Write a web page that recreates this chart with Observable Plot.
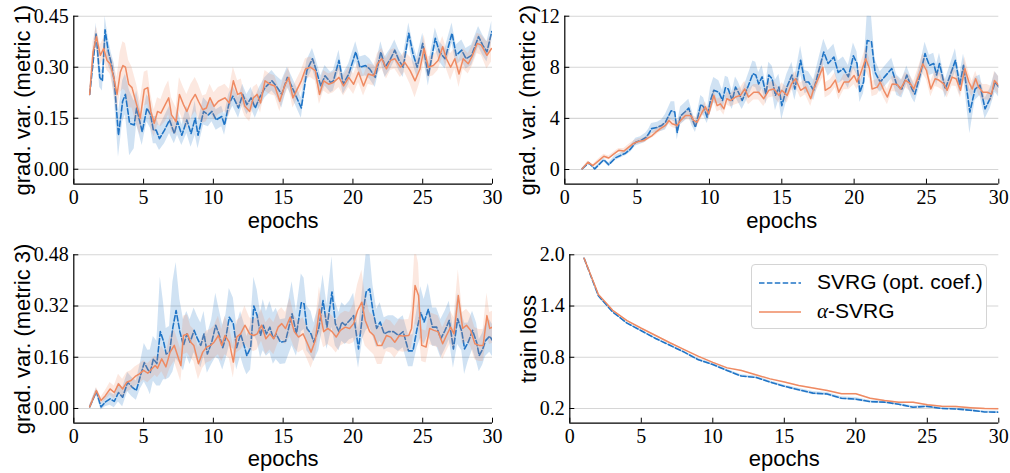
<!DOCTYPE html>
<html><head><meta charset="utf-8">
<script src="https://cdn.jsdelivr.net/npm/d3@7"></script>
<script src="https://cdn.jsdelivr.net/npm/@observablehq/plot@0.6"></script>
<style>
html,body{margin:0;padding:0;background:#fff;}
#chart{position:relative;width:1010px;height:473px;overflow:hidden;background:#fff;}
.pnl{position:absolute;}
.legend{position:absolute;left:751px;top:264px;width:236px;height:65px;box-sizing:border-box;border:1px solid #d4d4d4;border-radius:4px;background:#fff;font-family:"Liberation Sans",Arial,sans-serif;font-size:21px;color:#000;}
.legend .sw{position:absolute;left:7px;}
.legend .tx{position:absolute;left:65px;line-height:24px;white-space:nowrap;}
</style></head><body><div id="chart"></div>
<script>
// ---------- data ----------
const xTicks = [0, 5, 10, 15, 20, 25, 30];
const xLabel = "epochs";
const yLabels = ["grad. var. (metric 1)", "grad. var. (metric 2)", "grad. var. (metric 3)", "train loss"];
const yTicks1 = [0, 0.15, 0.30, 0.45];
const yTicks2 = [0, 4, 8, 12];
const yTicks3 = [0, 0.16, 0.32, 0.48];
const yTicks4 = [0.2, 0.8, 1.4, 2.0];
const seriesNames = ["SVRG (opt. coef.)", "α-SVRG"];

// panel 1
const svrg1X = [1.14,1.6,1.86,2.05,2.24,2.48,2.67,2.9,3.2,3.5,3.7,4.0,4.33,4.5,4.9,5.24,5.5,5.7,5.9,6.14,6.5,6.86,7.2,7.43,7.74,8.1,8.4,8.7,8.9,9.3,9.64,9.9,10.2,10.6,10.8,11.1,11.4,11.8,12.1,12.4,12.7,13.0,13.3,13.7,14.2,14.5,14.9,15.3,15.6,16.3,16.7,17.1,17.3,17.7,18.0,18.4,18.6,19.0,19.3,19.7,20.2,20.5,20.9,21.2,21.6,22.0,22.3,22.7,23.0,23.3,23.6,24.0,24.3,24.6,25.0,25.4,25.9,26.2,26.6,27.1,27.4,27.8,28.1,28.5,29.0,29.3,29.6,29.95];
const svrg1Y = [.22,.40,.27,.26,.41,.345,.315,.26,.10,.20,.22,.135,.13,.18,.11,.18,.16,.115,.115,.09,.115,.145,.105,.14,.10,.145,.105,.15,.10,.17,.16,.17,.145,.155,.13,.19,.215,.18,.22,.19,.21,.18,.21,.24,.26,.245,.22,.27,.245,.18,.29,.325,.30,.245,.275,.255,.26,.32,.25,.28,.345,.30,.305,.295,.27,.345,.30,.325,.35,.32,.30,.40,.34,.30,.37,.275,.385,.345,.325,.40,.335,.35,.325,.335,.39,.365,.345,.405];
const svrg1S = [.01,.03,.03,.03,.04,.04,.03,.05,.065,.06,.06,.095,.07,.05,.04,.04,.04,.04,.04,.035,.04,.04,.03,.04,.03,.04,.04,.05,.04,.04,.035,.03,.03,.03,.03,.03,.03,.03,.03,.03,.03,.03,.03,.03,.03,.03,.04,.03,.03,.03,.03,.03,.03,.03,.03,.03,.03,.03,.03,.03,.03,.03,.03,.03,.03,.03,.03,.03,.03,.03,.03,.03,.03,.03,.03,.03,.03,.03,.03,.03,.03,.03,.03,.03,.03,.03,.03,.03];
const alpha1X = [1.14,1.38,1.62,1.9,2.14,2.38,2.6,2.86,3.1,3.33,3.52,3.7,3.93,4.17,4.5,4.76,5.05,5.3,5.52,5.76,6.0,6.24,6.55,6.8,7.0,7.33,7.57,7.86,8.1,8.4,8.7,8.93,9.24,9.5,9.76,10.05,10.36,10.6,10.83,11.14,11.43,11.74,12.0,12.26,12.6,12.86,13.14,13.38,13.7,14.05,14.4,14.76,15.1,15.4,15.7,16.0,16.3,16.6,16.95,17.3,17.6,17.9,18.26,18.6,19.0,19.33,19.7,20.05,20.4,20.76,21.1,21.5,21.76,22.07,22.4,22.7,23.0,23.4,23.7,24.1,24.45,24.8,25.1,25.4,25.76,26.1,26.43,26.7,27.0,27.3,27.6,27.9,28.26,28.57,28.9,29.2,29.6,29.93];
const alpha1Y = [.22,.345,.39,.335,.355,.32,.31,.27,.22,.285,.305,.30,.25,.24,.19,.15,.235,.24,.17,.135,.17,.165,.19,.21,.16,.14,.22,.19,.17,.20,.22,.20,.175,.18,.21,.185,.20,.205,.21,.195,.26,.22,.225,.185,.17,.21,.22,.195,.26,.25,.245,.20,.245,.27,.21,.235,.26,.295,.30,.29,.22,.26,.25,.255,.27,.245,.27,.25,.285,.245,.28,.275,.31,.325,.295,.32,.325,.30,.315,.29,.26,.295,.355,.30,.305,.32,.36,.325,.30,.325,.28,.325,.31,.335,.37,.365,.335,.355];
const alpha1S = [.01,.03,.03,.03,.03,.03,.03,.04,.05,.06,.07,.07,.07,.06,.06,.05,.05,.05,.05,.04,.04,.04,.05,.05,.05,.04,.05,.05,.05,.05,.05,.05,.04,.04,.04,.04,.04,.04,.04,.04,.04,.04,.04,.03,.03,.03,.03,.03,.03,.03,.03,.03,.03,.03,.03,.03,.03,.03,.03,.03,.03,.03,.03,.03,.03,.03,.03,.03,.03,.03,.03,.03,.03,.03,.03,.03,.03,.03,.03,.04,.05,.04,.04,.03,.03,.03,.03,.03,.04,.03,.04,.03,.03,.03,.03,.03,.04,.04];

// panel 2
const svrg2X = [1.2,1.66,2.07,2.7,3.04,3.5,3.85,4.2,4.54,4.9,5.23,5.6,5.8,6.0,6.4,6.7,6.96,7.35,7.6,7.77,8.0,8.3,8.57,8.8,9.03,9.4,9.6,9.84,10.07,10.3,10.65,10.9,11.1,11.3,11.57,11.8,12.0,12.26,12.5,12.7,13.0,13.2,13.4,13.64,13.9,14.1,14.33,14.56,14.8,15.0,15.35,15.7,15.9,16.3,16.6,16.85,17.2,17.5,17.9,18.2,18.6,18.9,19.26,19.6,19.95,20.2,20.4,20.65,20.9,21.2,21.45,21.8,22.1,22.6,22.95,23.3,23.64,24.0,24.2,24.56,24.9,25.2,25.5,25.7,25.9,26.3,26.6,27.0,27.3,27.56,28.0,28.36,28.7,29.05,29.4,29.75,30.0];
const svrg2Y = [0.05,0.52,0.05,0.76,0.37,0.91,1.1,1.28,1.6,2.14,2.27,2.5,2.8,3.2,3.3,3.45,3.7,4.6,4.5,2.9,4.2,4.5,4.8,4.0,3.3,5.1,4.9,4.1,5.4,6.2,6.05,5.4,6.4,6.3,5.4,6.45,6.05,5.4,6.05,6.6,7.5,7.4,6.7,7.25,5.9,7.4,7.1,5.8,6.45,5.0,6.45,7.4,6.3,8.55,6.85,6.85,6.2,7.5,9.2,8.3,8.8,7.6,7.9,7.25,8.9,8.3,6.05,6.85,10.1,10.0,7.6,6.85,7.25,7.9,6.6,6.3,7.4,6.3,5.9,7.4,9.07,8.15,8.3,7.4,8.3,6.3,7.25,8.55,6.6,8.15,4.5,6.3,6.6,4.75,5.55,6.85,6.45];
const svrg2S = [.05,.1,.1,.15,.15,.2,.2,.2,.25,.3,.3,.35,.35,.4,.4,.45,.6,.7,.8,.6,.7,.7,.7,.6,.4,.7,.7,.5,1.0,1.0,.9,.8,.9,.9,.7,.8,.8,.7,.8,.9,1.0,1.0,.9,.9,.8,1.0,1.0,1.2,1.0,1.1,1.0,1.0,.9,1.1,.9,.8,.8,.9,1.0,1.0,1.0,.9,.9,.9,1.0,.9,.8,.9,2.0,2.0,1.0,.8,.8,.8,.8,.7,.7,.7,.7,.8,.9,.8,.8,.8,.8,.7,.8,.9,.8,.9,1.7,.9,.8,.8,.8,.8,.8];
const alpha2X = [1.2,1.6,1.94,2.35,2.7,3.04,3.4,3.73,4.08,4.42,4.77,5.1,5.46,5.8,6.04,6.27,6.6,6.96,7.2,7.42,7.77,8.0,8.34,8.7,8.9,9.15,9.5,9.72,9.95,10.3,10.53,10.76,11.0,11.2,11.45,11.8,12.14,12.44,12.7,13.06,13.4,13.75,14.1,14.45,14.8,15.0,15.37,15.67,15.95,16.3,16.64,17.0,17.2,17.56,17.84,18.0,18.36,18.7,18.94,19.3,19.63,20.0,20.2,20.44,20.8,21.06,21.24,21.6,21.8,22.05,22.3,22.63,23.0,23.2,23.55,23.9,24.12,24.47,24.75,25.0,25.3,25.6,25.85,26.2,26.43,26.77,27.05,27.35,27.65,27.93,28.16,28.4,28.6,28.9,29.2,29.5,29.7,30.0];
const alpha2Y = [.05,.57,.3,.7,1.04,.9,1.23,1.5,1.44,1.75,2.06,2.2,2.27,2.5,2.66,2.9,3.2,3.45,3.84,3.58,3.45,3.84,4.23,4.23,3.84,3.7,4.5,4.9,4.36,5.8,5.0,5.14,4.75,5.54,5.4,5.67,5.8,6.3,5.67,6.05,6.05,5.54,6.2,6.3,5.8,6.2,5.8,6.7,7.1,6.2,6.45,5.54,6.3,7.23,8.0,6.2,6.45,7.0,6.05,6.85,6.85,7.36,6.85,7.5,8.67,7.9,6.3,6.45,6.85,6.2,5.67,6.7,6.65,6.3,7.0,6.7,6.3,7.36,8.27,7.75,6.3,7.1,7.0,6.7,6.2,7.23,7.1,6.2,7.9,6.85,6.3,7.1,6.45,6.05,6.05,5.9,6.97,6.58];
const alpha2S = [.05,.1,.1,.15,.15,.15,.15,.15,.2,.2,.2,.2,.2,.2,.2,.25,.25,.25,.3,.3,.3,.3,.35,.35,.35,.35,.4,.4,.4,.5,.5,.5,.5,.5,.5,.6,.6,.6,.6,.6,.6,.6,.6,.6,.6,.6,.6,.6,.6,.6,.6,.6,.6,.7,.8,.6,.6,.6,.6,.6,.6,.7,.6,.7,.9,.8,.6,.6,.6,.6,.6,.6,.6,.6,.6,.6,.6,.7,.8,.7,.6,.6,.6,.6,.6,.7,.6,.6,.9,.7,.6,.6,.6,.6,.6,.6,.7,.7];

// panel 3
const svrg3X = [1.14,1.62,1.95,2.26,2.6,2.9,3.2,3.5,3.86,4.17,4.48,4.76,5.05,5.3,5.48,5.7,5.95,6.2,6.43,6.62,6.86,7.1,7.33,7.6,7.86,8.1,8.33,8.62,8.86,9.1,9.33,9.57,9.88,10.17,10.4,10.67,10.9,11.14,11.43,11.67,11.95,12.2,12.4,12.67,12.9,13.14,13.38,13.57,13.8,14.05,14.3,14.5,14.8,15.17,15.64,15.95,16.3,16.5,16.7,17.0,17.2,17.55,17.86,18.14,18.5,18.74,19.0,19.2,19.45,19.76,20.05,20.4,20.7,20.95,21.2,21.43,21.7,21.95,22.24,22.55,22.9,23.26,23.6,23.98,24.3,24.6,24.86,25.1,25.4,25.7,26.0,26.3,26.6,26.9,27.2,27.5,27.8,28.0,28.26,28.57,28.86,29.05,29.3,29.5,29.8,30.0];
const svrg3Y = [.005,.053,.005,.02,.03,.022,.05,.035,.082,.067,.056,.10,.143,.122,.113,.155,.14,.24,.21,.17,.176,.254,.306,.24,.197,.233,.207,.244,.218,.197,.233,.17,.207,.26,.233,.19,.223,.285,.265,.19,.233,.197,.165,.19,.32,.29,.228,.26,.233,.254,.218,.233,.207,.21,.296,.233,.33,.327,.25,.233,.207,.25,.337,.254,.364,.265,.24,.27,.26,.275,.29,.186,.296,.364,.374,.306,.25,.27,.233,.24,.24,.228,.24,.18,.18,.25,.30,.27,.31,.254,.254,.218,.244,.275,.186,.28,.24,.186,.207,.244,.207,.165,.186,.212,.226,.212];
const svrg3S = [.005,.01,.01,.015,.02,.02,.03,.03,.03,.03,.03,.04,.06,.06,.07,.07,.07,.17,.12,.08,.08,.14,.15,.10,.08,.07,.07,.07,.07,.07,.07,.06,.07,.10,.08,.07,.07,.09,.08,.07,.07,.07,.06,.07,.09,.08,.07,.08,.07,.08,.08,.08,.07,.07,.10,.07,.09,.08,.07,.07,.06,.07,.08,.07,.11,.07,.06,.06,.06,.06,.07,.06,.08,.12,.12,.08,.06,.06,.05,.05,.05,.05,.05,.05,.05,.06,.08,.07,.08,.06,.06,.06,.06,.06,.06,.08,.06,.08,.06,.06,.06,.05,.05,.05,.05,.05];
const alpha3X = [1.14,1.62,1.95,2.26,2.6,2.9,3.2,3.5,3.8,4.1,4.4,4.7,5.0,5.3,5.6,5.83,6.0,6.3,6.6,6.9,7.2,7.43,7.67,7.86,8.14,8.38,8.6,8.93,9.24,9.52,9.8,10.05,10.36,10.6,10.83,11.14,11.43,11.67,11.95,12.26,12.6,12.9,13.14,13.45,13.76,14.05,14.33,14.64,14.9,15.17,15.5,15.8,16.1,16.43,16.7,17.0,17.3,17.6,17.9,18.2,18.5,18.8,19.1,19.45,19.76,20.05,20.33,20.64,20.88,21.2,21.5,21.76,22.07,22.4,22.7,23.0,23.33,23.6,24.0,24.2,24.45,24.7,24.93,25.24,25.5,25.8,26.1,26.43,26.7,27.0,27.24,27.55,27.86,28.14,28.43,28.74,29.05,29.33,29.6,29.8,30.0];
const alpha3Y = [.005,.056,.025,.04,.061,.05,.077,.061,.082,.0875,.10,.108,.119,.11,.124,.134,.126,.155,.13,.176,.197,.166,.134,.228,.233,.207,.197,.14,.176,.192,.197,.207,.228,.197,.228,.207,.145,.223,.233,.26,.233,.228,.233,.26,.218,.233,.218,.254,.265,.25,.285,.24,.223,.233,.207,.176,.212,.31,.24,.25,.24,.223,.244,.254,.25,.265,.306,.332,.275,.24,.228,.197,.197,.228,.223,.207,.228,.226,.228,.25,.384,.353,.197,.192,.25,.244,.24,.202,.228,.254,.233,.353,.25,.26,.244,.202,.197,.197,.29,.25,.254];
const alpha3S = [.005,.01,.01,.015,.02,.02,.03,.03,.03,.03,.03,.03,.03,.03,.03,.03,.03,.04,.04,.05,.05,.05,.05,.06,.06,.05,.05,.05,.05,.05,.05,.05,.06,.05,.06,.05,.05,.05,.05,.06,.05,.05,.05,.05,.05,.05,.05,.05,.05,.05,.06,.05,.05,.05,.05,.05,.05,.07,.05,.05,.05,.05,.05,.05,.05,.06,.08,.10,.08,.06,.06,.06,.06,.05,.05,.05,.05,.05,.05,.06,.12,.10,.05,.05,.05,.05,.05,.05,.05,.05,.05,.08,.05,.05,.05,.05,.05,.05,.07,.05,.05];

// panel 4
const lossEpochs = [1,2,3,4,5,6,7,8,9,10,11,12,13,14,15,16,17,18,19,20,21,22,23,24,25,26,27,28,29,30];
const svrg4Y = [1.96,1.52,1.33,1.20,1.11,1.02,0.94,0.86,0.77,0.715,0.645,0.58,0.565,0.51,0.46,0.42,0.38,0.37,0.32,0.31,0.28,0.275,0.25,0.215,0.225,0.20,0.195,0.18,0.16,0.157];
const svrg4S = [.005,.01,.01,.01,.01,.012,.012,.012,.015,.015,.015,.015,.015,.015,.015,.018,.018,.018,.018,.018,.015,.015,.015,.015,.015,.012,.012,.012,.012,.012];
const alpha4Y = [1.96,1.535,1.35,1.23,1.14,1.055,0.97,0.89,0.81,0.74,0.676,0.645,0.595,0.547,0.51,0.47,0.44,0.41,0.372,0.372,0.32,0.294,0.274,0.274,0.243,0.227,0.223,0.21,0.20,0.196];
const alpha4S = [.004,.006,.006,.006,.006,.006,.006,.006,.006,.006,.006,.006,.006,.006,.006,.006,.006,.006,.006,.006,.006,.006,.006,.006,.006,.006,.006,.006,.006,.006];

// ---------- drawing ----------
const BLUE = "#1f74c6", ORANGE = "#ef8a62";
const SERIF = "'Liberation Serif','Times New Roman',serif";
const SANS = "'Liberation Sans',Arial,Helvetica,sans-serif";

function rows(X, Y, S, name) {
  if (X.length !== Y.length || X.length !== S.length) throw new Error(name + " length mismatch " + X.length + "/" + Y.length + "/" + S.length);
  return X.map((e, i) => ({e, m: Y[i], lo: Y[i] - S[i], hi: Y[i] + S[i]}));
}

function panel(o) {
  const blue = rows(o.bx, o.by, o.bs, o.name + " svrg");
  const orange = rows(o.ox, o.oy, o.os, o.name + " alpha");
  const marks = [
    Plot.gridY(o.yTicks, {stroke: "#d6d6d6", strokeOpacity: 1, strokeWidth: 1.1}),
    Plot.areaY(blue, {x: "e", y1: "lo", y2: "hi", fill: BLUE, fillOpacity: 0.21, clip: true}),
    Plot.line(blue, {x: "e", y: "m", stroke: BLUE, strokeWidth: 1.6, strokeDasharray: "5.5,2.4", clip: true}),
    Plot.areaY(orange, {x: "e", y1: "lo", y2: "hi", fill: ORANGE, fillOpacity: 0.2, clip: true}),
    Plot.line(orange, {x: "e", y: "m", stroke: ORANGE, strokeWidth: 1.5, clip: true}),
    Plot.ruleX([0], {stroke: "#000", strokeWidth: 1.2}),
    Plot.ruleY([o.yDomain[0]], {stroke: "#000", strokeWidth: 1.2}),
    Plot.axisY(o.yTicks, {tickSize: 0, tickPadding: 5, tickFormat: o.yFmt, fontSize: 20, fontFamily: SERIF, label: null}),
    Plot.axisY(o.yTicks, {tickSize: 5, dx: 5, tickFormat: () => "", label: null}),
    Plot.axisX(xTicks, {tickSize: 0, tickPadding: 6, tickFormat: d => String(d), fontSize: 20, fontFamily: SERIF, label: null}),
    Plot.axisX(xTicks, {tickSize: 5, dy: -5, tickFormat: () => "", label: null}),
    Plot.text([xLabel], {frameAnchor: "bottom", dy: o.xLabelDy, lineAnchor: "middle", textAnchor: "middle", text: d => d, fontSize: 22, fontFamily: SANS, fill: "#000"}),
    Plot.text([o.yLabel], {frameAnchor: "left", dx: o.yLabelDx, rotate: -90, textAnchor: "middle", lineAnchor: "middle", text: d => d, fontSize: 22, fontFamily: SANS, fill: "#000"})
  ];
  const svg = Plot.plot({
    width: o.width, height: o.height,
    marginLeft: o.mL, marginRight: o.mR, marginTop: o.mT, marginBottom: o.mB,
    x: {domain: [0, 30]},
    y: {domain: o.yDomain},
    style: {fontFamily: SERIF, fontSize: "20px", background: "transparent", overflow: "visible", color: "#000"},
    marks
  });
  const div = document.createElement("div");
  div.className = "pnl";
  div.style.left = o.left + "px";
  div.style.top = o.top + "px";
  div.appendChild(svg);
  document.getElementById("chart").appendChild(div);
}

const f2 = d => d.toFixed(2), f0 = d => d.toFixed(0), f1 = d => d.toFixed(1);

panel({name: "p1", left: 0, top: 0, width: 505, height: 236, mL: 73.3, mR: 13, mT: 15.7, mB: 52.3,
  yDomain: [-0.044, 0.45], yTicks: yTicks1, yFmt: f2, yLabel: yLabels[0], yLabelDx: -51, xLabelDy: 36.5,
  bx: svrg1X, by: svrg1Y, bs: svrg1S, ox: alpha1X, oy: alpha1Y, os: alpha1S});
panel({name: "p2", left: 505, top: 0, width: 505, height: 236, mL: 59.3, mR: 11.7, mT: 15.7, mB: 52.3,
  yDomain: [-1.15, 12], yTicks: yTicks2, yFmt: f0, yLabel: yLabels[1], yLabelDx: -37, xLabelDy: 36.5,
  bx: svrg2X, by: svrg2Y, bs: svrg2S, ox: alpha2X, oy: alpha2Y, os: alpha2S});
panel({name: "p3", left: 0, top: 236, width: 505, height: 237, mL: 73.3, mR: 13, mT: 18.3, mB: 50.3,
  yDomain: [-0.046, 0.48], yTicks: yTicks3, yFmt: f2, yLabel: yLabels[2], yLabelDx: -51, xLabelDy: 36,
  bx: svrg3X, by: svrg3Y, bs: svrg3S, ox: alpha3X, oy: alpha3Y, os: alpha3S});
panel({name: "p4", left: 505, top: 236, width: 505, height: 237, mL: 64.3, mR: 11.7, mT: 18.3, mB: 50.3,
  yDomain: [0.028, 2.0], yTicks: yTicks4, yFmt: f1, yLabel: yLabels[3], yLabelDx: -41, xLabelDy: 36,
  bx: lossEpochs, by: svrg4Y, bs: svrg4S, ox: lossEpochs, oy: alpha4Y, os: alpha4S});

// legend
const lg = document.createElement("div");
lg.className = "legend";
lg.innerHTML =
  `<svg class="sw" style="top:16px" width="44" height="4"><line x1="0" x2="42" y1="2" y2="2" stroke="${BLUE}" stroke-width="1.6" stroke-dasharray="5.5,2.4"/></svg>` +
  `<div class="tx" style="top:5px">${seriesNames[0]}</div>` +
  `<svg class="sw" style="top:44.7px" width="44" height="4"><line x1="0" x2="42" y1="2" y2="2" stroke="${ORANGE}" stroke-width="1.5"/></svg>` +
  `<div class="tx" style="top:33.7px"><span style="font-family:'Liberation Serif',serif;font-style:italic">${seriesNames[1].charAt(0)}</span>${seriesNames[1].slice(1)}</div>`;
document.getElementById("chart").appendChild(lg);
</script></body></html>
